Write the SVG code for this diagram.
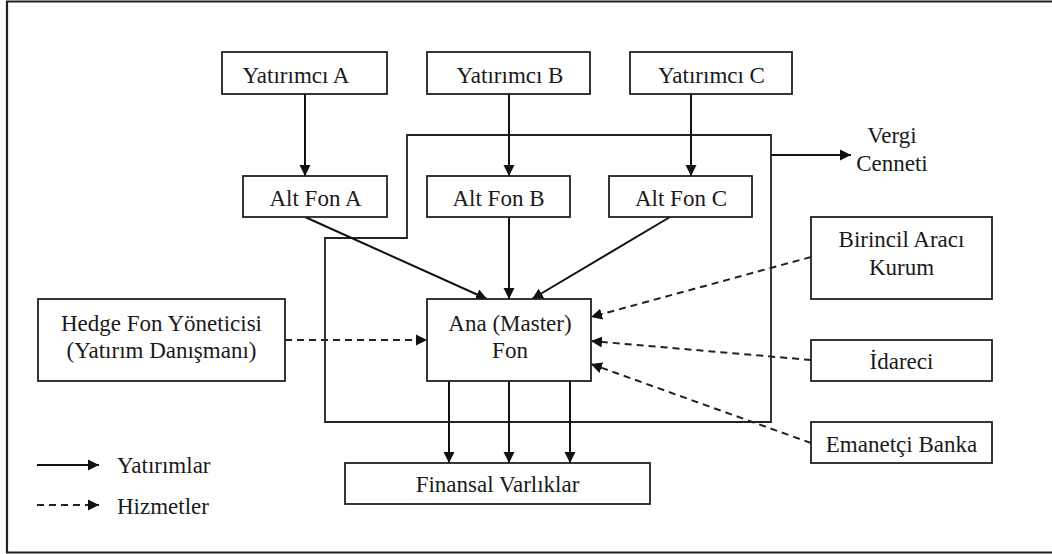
<svg xmlns="http://www.w3.org/2000/svg" width="1052" height="554" viewBox="0 0 1052 554">
<defs>
<marker id="ah" markerUnits="userSpaceOnUse" markerWidth="13" markerHeight="12" refX="11" refY="6" orient="auto">
<path d="M0,0.5 L11,6 L0,11.5 z" fill="#111"/>
</marker>
<style>
.box{fill:#fff;stroke:#222;stroke-width:1.8}
.t{font-family:"Liberation Serif","Times New Roman",serif;font-size:23px;fill:#1a1a1a;text-anchor:middle}
.tl{font-family:"Liberation Serif","Times New Roman",serif;font-size:23px;fill:#1a1a1a}
.s{fill:none;stroke:#111;stroke-width:2;marker-end:url(#ah)}
.d{fill:none;stroke:#222;stroke-width:2;stroke-dasharray:7 5;marker-end:url(#ah)}
.frame{fill:none;stroke:#222;stroke-width:2.2}
</style>
</defs>
<rect width="1052" height="554" fill="#fff"/>
<path class="frame" d="M1053,1.5 H7 V552.5 H1053"/>
<g id="vergi-cenneti-boundary">
<path d="M407,135 H771 V422 H325 V238 H407 Z" fill="none" stroke="#222" stroke-width="1.8"/>
</g>
<g id="connectors">
<line class="s" x1="305" y1="94" x2="305" y2="176"/>
<line class="s" x1="509" y1="94" x2="509" y2="176"/>
<line class="s" x1="691" y1="94" x2="691" y2="176"/>
<line class="s" x1="305" y1="217" x2="487" y2="299"/>
<line class="s" x1="509" y1="217" x2="509" y2="299"/>
<line class="s" x1="670" y1="217" x2="532" y2="299"/>
<line class="s" x1="449" y1="381" x2="449" y2="463"/>
<line class="s" x1="509" y1="381" x2="509" y2="463"/>
<line class="s" x1="570" y1="381" x2="570" y2="463"/>
<line class="s" x1="771" y1="155" x2="851" y2="155"/>
<line class="d" x1="285" y1="340" x2="427" y2="340"/>
<line class="d" x1="811" y1="257" x2="591" y2="317"/>
<line class="d" x1="811" y1="360" x2="591" y2="341"/>
<line class="d" x1="811" y1="443" x2="591" y2="364"/>
</g>
<g id="yatirimci-a"><rect class="box" x="222" y="52" width="165" height="42"/><text class="t" x="296" y="83">Yatırımcı A</text></g>
<g id="yatirimci-b"><rect class="box" x="427" y="52" width="163" height="42"/><text class="t" x="510" y="83">Yatırımcı B</text></g>
<g id="yatirimci-c"><rect class="box" x="630" y="52" width="162" height="42"/><text class="t" x="711.5" y="83">Yatırımcı C</text></g>
<g id="alt-fon-a"><rect class="box" x="243" y="176" width="144" height="41"/><text class="t" x="315.5" y="206">Alt Fon A</text></g>
<g id="alt-fon-b"><rect class="box" x="427" y="176" width="143" height="41"/><text class="t" x="498.5" y="206">Alt Fon B</text></g>
<g id="alt-fon-c"><rect class="box" x="609" y="176" width="143" height="41"/><text class="t" x="681" y="206">Alt Fon C</text></g>
<g id="vergi-cenneti"><text class="t" x="892" y="143">Vergi</text><text class="t" x="892" y="171">Cenneti</text></g>
<g id="ana-fon"><rect class="box" x="427" y="299" width="164" height="82"/><text class="t" x="510" y="331">Ana (Master)</text><text class="t" x="510" y="358">Fon</text></g>
<g id="hedge-fon-yoneticisi"><rect class="box" x="38" y="299" width="247" height="82"/><text class="t" x="161.5" y="331">Hedge Fon Yöneticisi</text><text class="t" x="161.5" y="358">(Yatırım Danışmanı)</text></g>
<g id="birincil-araci-kurum"><rect class="box" x="811" y="217" width="181" height="82"/><text class="t" x="901.5" y="247">Birincil Aracı</text><text class="t" x="901.5" y="275">Kurum</text></g>
<g id="idareci"><rect class="box" x="811" y="340" width="181" height="41"/><text class="t" x="901.5" y="369">İdareci</text></g>
<g id="emanetci-banka"><rect class="box" x="811" y="422" width="181" height="41"/><text class="t" x="901.5" y="452">Emanetçi Banka</text></g>
<g id="finansal-varliklar"><rect class="box" x="345" y="463" width="305" height="41"/><text class="t" x="497.5" y="492">Finansal Varlıklar</text></g>
<g id="legend">
<line class="s" x1="37" y1="465" x2="99" y2="465"/>
<text class="tl" x="117" y="473">Yatırımlar</text>
<line class="d" x1="37" y1="505" x2="99" y2="505"/>
<text class="tl" x="117" y="514">Hizmetler</text>
</g>
</svg>
